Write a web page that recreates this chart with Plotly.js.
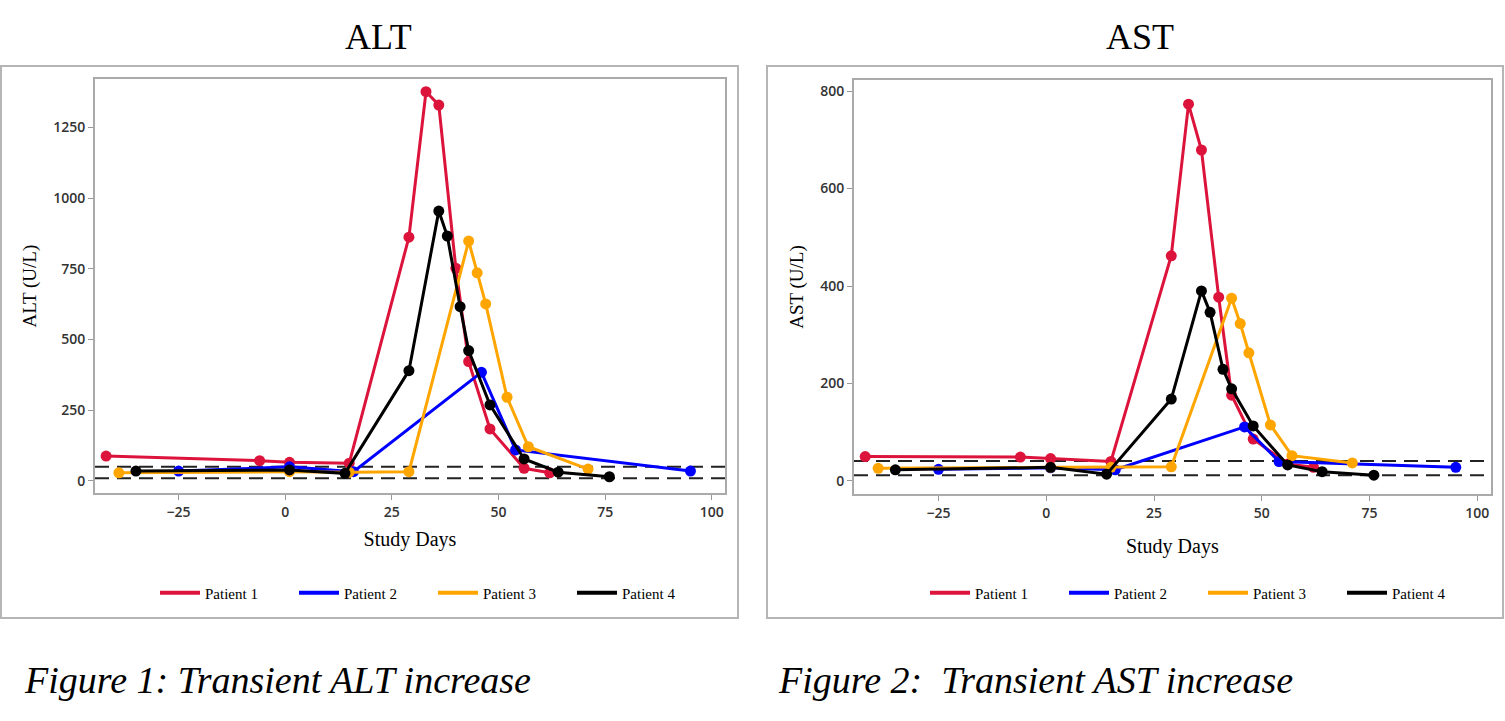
<!DOCTYPE html>
<html>
<head>
<meta charset="utf-8">
<script src="https://cdn.plot.ly/plotly-3.0.1.min.js"></script>
<style>html,body{margin:0;padding:0;background:#fff;}#chart{width:1505px;height:721px;}</style>
</head>
<body>
<div id="chart"></div>
<script>
// ---- Data ----
const patients = ["Patient 1", "Patient 2", "Patient 3", "Patient 4"];
const colors = ["#DC143C", "#0000FF", "#FFA500", "#000000"];

// ALT
const altDaysP1 = [-42, -6, 1, 15, 29, 33, 36, 40, 43, 48, 56, 62];
const altValsP1 = [88, 72, 66, 63, 862, 1376, 1329, 752, 422, 184, 45, 29];
const altDaysP2 = [-25, 1, 16, 46, 54, 95];
const altValsP2 = [35, 50, 33, 384, 110, 35];
const altDaysP3 = [-39, 1, 15, 29, 43, 45, 47, 52, 57, 71];
const altValsP3 = [29, 33, 31, 33, 848, 736, 626, 296, 121, 42];
const altDaysP4 = [-35, 1, 14, 29, 36, 38, 41, 43, 48, 56, 64, 76];
const altValsP4 = [35, 39, 27, 390, 954, 866, 616, 461, 269, 78, 31, 15];
const altRefLines = [10, 50];

// AST
const astDaysP1 = [-42, -6, 1, 15, 29, 33, 36, 40, 43, 48, 56, 62];
const astValsP1 = [50, 49, 46, 40, 462, 773, 679, 377, 176, 86, 35, 28];
const astDaysP2 = [-25, 1, 16, 46, 54, 95];
const astValsP2 = [24, 27, 23, 111, 40, 28];
const astDaysP3 = [-39, 1, 15, 29, 43, 45, 47, 52, 57, 71];
const astValsP3 = [26, 28, 28, 29, 375, 323, 263, 115, 52, 37];
const astDaysP4 = [-35, 1, 14, 29, 36, 38, 41, 43, 48, 56, 64, 76];
const astValsP4 = [23, 28, 14, 168, 390, 346, 229, 189, 113, 33, 19, 12];
const astRefLines = [12, 41];

const xTickVals = [-25, 0, 25, 50, 75, 100];
const altTickVals = [0, 250, 500, 750, 1000, 1250];
const astTickVals = [0, 200, 400, 600, 800];

// ---- Build traces ----
const altSeries = [[altDaysP1, altValsP1], [altDaysP2, altValsP2], [altDaysP3, altValsP3], [altDaysP4, altValsP4]];
const astSeries = [[astDaysP1, astValsP1], [astDaysP2, astValsP2], [astDaysP3, astValsP3], [astDaysP4, astValsP4]];

const traces = [];
function addPanel(series, xa, ya, legendId) {
  series.forEach((s, i) => {
    traces.push({
      type: "scatter", mode: "lines+markers",
      x: s[0], y: s[1], xaxis: xa, yaxis: ya,
      name: patients[i], showlegend: false,
      line: {color: colors[i], width: 3},
      marker: {color: colors[i], size: 11}
    });
  });
  patients.forEach((p, i) => {
    traces.push({
      type: "scatter", mode: "lines",
      x: [null], y: [null], xaxis: xa, yaxis: ya,
      name: p, legend: legendId, showlegend: true,
      line: {color: colors[i], width: 4}
    });
  });
}
addPanel(altSeries, "x", "y", "legend");
addPanel(astSeries, "x2", "y2", "legend2");

const W = 1505, H = 721;
const px = v => v / W;
const py = v => 1 - v / H;

const serif = "Liberation Serif, Times New Roman, serif";
const tickFont = {family: "Open Sans, DejaVu Sans, sans-serif", size: 14, color: "#333", weight: 600};

function xAxis(domain, anchor, standoff) {
  return {
    domain: domain, anchor: anchor, range: [-44.6, 103.1],
    tickvals: xTickVals, ticks: "outside", ticklen: 5, tickcolor: "#999", tickwidth: 1,
    showline: true, linecolor: "#aaa", linewidth: 2, mirror: true,
    showgrid: false, zeroline: false, tickfont: tickFont, automargin: false,
    title: {text: "Study Days", font: {family: serif, size: 20, color: "#000"}, standoff: standoff}
  };
}
function yAxis(domain, anchor, range, tickvals, title) {
  return {
    domain: domain, anchor: anchor, range: range,
    tickvals: tickvals, ticks: "outside", ticklen: 5, tickcolor: "#999", tickwidth: 1,
    showline: true, linecolor: "#aaa", linewidth: 2, mirror: true,
    showgrid: false, zeroline: false, tickfont: tickFont, automargin: false,
    title: {text: title, font: {family: serif, size: 19, color: "#000"}, standoff: 12}
  };
}

const shapes = [];
altRefLines.forEach(v => shapes.push({type: "line", xref: "x domain", yref: "y", x0: 0, x1: 1, y0: v, y1: v,
  line: {color: "#222", width: 2, dash: "14px,8px"}, layer: "below"}));
astRefLines.forEach(v => shapes.push({type: "line", xref: "x2 domain", yref: "y2", x0: 0, x1: 1, y0: v, y1: v,
  line: {color: "#222", width: 2, dash: "14px,8px"}, layer: "below"}));
// outer panel frames
shapes.push({type: "rect", xref: "paper", yref: "paper", x0: px(1), x1: px(738), y0: py(618), y1: py(66),
  line: {color: "#b5b5b5", width: 2}});
shapes.push({type: "rect", xref: "paper", yref: "paper", x0: px(767), x1: px(1503), y0: py(618), y1: py(66),
  line: {color: "#b5b5b5", width: 2}});

const annotations = [
  {text: "ALT", xref: "paper", yref: "paper", x: px(378), y: py(37), showarrow: false,
   font: {family: serif, size: 36, color: "#000"}, xanchor: "center", yanchor: "middle"},
  {text: "AST", xref: "paper", yref: "paper", x: px(1140), y: py(37), showarrow: false,
   font: {family: serif, size: 36, color: "#000"}, xanchor: "center", yanchor: "middle"},
  {text: "<i>Figure 1: Transient ALT increase</i>", xref: "paper", yref: "paper", x: px(22), y: py(680), showarrow: false,
   font: {family: serif, size: 38, color: "#000"}, xanchor: "left", yanchor: "middle"},
  {text: "<i>Figure 2:  Transient AST increase</i>", xref: "paper", yref: "paper", x: px(776), y: py(680), showarrow: false,
   font: {family: serif, size: 38, color: "#000"}, xanchor: "left", yanchor: "middle"}
];

const legendBase = {orientation: "h", xref: "paper", yref: "paper", xanchor: "left", yanchor: "middle",
  font: {family: serif, size: 15, color: "#000"}, bgcolor: "rgba(0,0,0,0)", itemwidth: 40,
  entrywidth: 84, entrywidthmode: "pixels", tracegroupgap: 0};

const layout = {
  width: W, height: H,
  margin: {l: 0, r: 0, t: 0, b: 0},
  paper_bgcolor: "#fff", plot_bgcolor: "#fff",
  showlegend: true,
  xaxis: xAxis([px(95), px(725)], "y", 12),
  yaxis: yAxis([py(493.3), py(79)], "x", [-43.5, 1421], altTickVals, "ALT (U/L)"),
  xaxis2: xAxis([px(854), px(1490.7)], "y2", 18),
  yaxis2: yAxis([py(494), py(80)], "x2", [-26.7, 822.6], astTickVals, "AST (U/L)"),
  legend: Object.assign({}, legendBase, {x: px(155), y: py(593)}),
  legend2: Object.assign({}, legendBase, {x: px(925), y: py(593)}),
  shapes: shapes,
  annotations: annotations
};

Plotly.newPlot("chart", traces, layout, {displayModeBar: false, staticPlot: true});
</script>
</body>
</html>
